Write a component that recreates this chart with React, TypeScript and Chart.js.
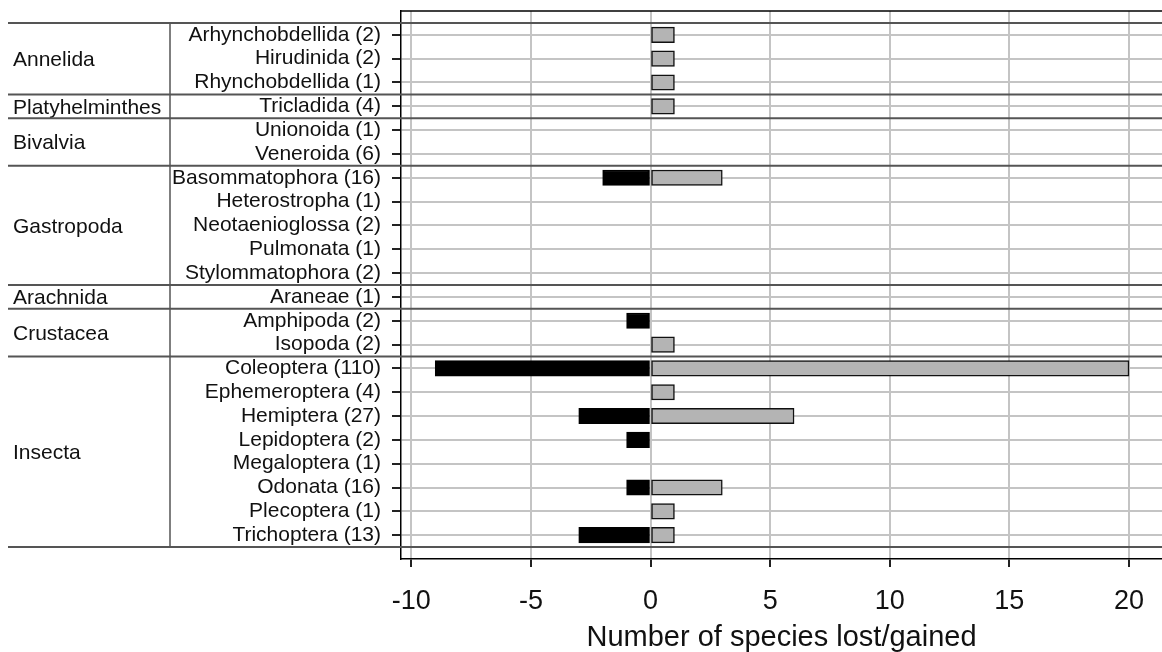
import React, { useEffect, useRef } from 'react';
import { Chart, registerables } from 'chart.js';

Chart.register(...registerables);

const phyla = ['Annelida', 'Platyhelminthes', 'Bivalvia', 'Gastropoda', 'Arachnida', 'Crustacea', 'Insecta'];
const phylumSizes = [3, 1, 2, 5, 1, 2, 8];
const orders = [
  'Arhynchobdellida (2)', 'Hirudinida (2)', 'Rhynchobdellida (1)',
  'Tricladida (4)',
  'Unionoida (1)', 'Veneroida (6)',
  'Basommatophora (16)', 'Heterostropha (1)', 'Neotaenioglossa (2)', 'Pulmonata (1)', 'Stylommatophora (2)',
  'Araneae (1)',
  'Amphipoda (2)', 'Isopoda (2)',
  'Coleoptera (110)', 'Ephemeroptera (4)', 'Hemiptera (27)', 'Lepidoptera (2)', 'Megaloptera (1)', 'Odonata (16)', 'Plecoptera (1)', 'Trichoptera (13)',
];
const lost = [0, 0, 0, 0, 0, 0, -2, 0, 0, 0, 0, 0, -1, 0, -9, 0, -3, -1, 0, -1, 0, -3];
const gained = [1, 1, 1, 1, 0, 0, 3, 0, 0, 0, 0, 0, 0, 1, 20, 1, 6, 0, 0, 3, 1, 1];
const xTicks = [-10, -5, 0, 5, 10, 15, 20];
const xMin = -10.43;
const xMax = 21.38;
const xTitle = 'Number of species lost/gained';

const FONT = '"Liberation Sans", Arial, sans-serif';

const groupPlugin = {
  id: 'groups',
  afterDraw(chart: any) {
    const { ctx, chartArea, scales } = chart;
    const y = scales.y;
    const step = y.getPixelForValue(2) - y.getPixelForValue(1);
    ctx.save();
    ctx.strokeStyle = '#000';
    ctx.lineWidth = 1.5;
    ctx.beginPath();
    ctx.moveTo(chartArea.left, chartArea.top);
    ctx.lineTo(chartArea.right, chartArea.top);
    ctx.stroke();

    const bounds: number[] = [y.getPixelForValue(1) - step / 2];
    let idx = 1;
    ctx.fillStyle = '#111';
    ctx.font = `21px ${FONT}`;
    ctx.textAlign = 'left';
    ctx.textBaseline = 'middle';
    phylumSizes.forEach((n, i) => {
      const topPx = y.getPixelForValue(idx) - step / 2;
      const botPx = y.getPixelForValue(idx + n - 1) + step / 2;
      ctx.fillText(phyla[i], 13, (topPx + botPx) / 2 + 1.5);
      bounds.push(botPx);
      idx += n;
    });
    ctx.strokeStyle = '#555';
    ctx.lineWidth = 2;
    bounds.forEach((b) => {
      ctx.beginPath();
      ctx.moveTo(8, b);
      ctx.lineTo(chart.width, b);
      ctx.stroke();
    });
    ctx.lineWidth = 1.5;
    ctx.beginPath();
    ctx.moveTo(170, bounds[0]);
    ctx.lineTo(170, bounds[bounds.length - 1]);
    ctx.stroke();
    ctx.restore();
  },
};

export default function App() {
  const ref = useRef<HTMLCanvasElement>(null);
  useEffect(() => {
    if (!ref.current) return;
    const labels = ['', ...orders, ''];
    const lostData = [null, ...lost.map((v) => (v === 0 ? null : v)), null];
    const gainedData = [null, ...gained.map((v) => (v === 0 ? null : v)), null];
    const last = labels.length - 1;
    const chart = new Chart(ref.current, {
      type: 'bar',
      data: {
        labels,
        datasets: [
          {
            label: 'lost',
            data: lostData as any,
            backgroundColor: '#000',
            borderColor: '#000',
            borderWidth: 1.5,
            borderSkipped: false,
            barThickness: 15.5,
          },
          {
            label: 'gained',
            data: gainedData as any,
            backgroundColor: '#b4b4b4',
            borderColor: '#111',
            borderWidth: 1.5,
            borderSkipped: false,
            barThickness: 15.5,
          },
        ],
      },
      options: {
        indexAxis: 'y',
        responsive: false,
        animation: false,
        layout: { padding: { top: 11, left: 0, right: 0, bottom: 0 } },
        plugins: { legend: { display: false }, tooltip: { enabled: false } },
        scales: {
          x: {
            type: 'linear',
            stacked: true,
            min: xMin,
            max: xMax,
            afterBuildTicks: (scale: any) => {
              scale.ticks = xTicks.map((v) => ({ value: v }));
            },
            afterFit: (scale: any) => {
              scale.height = 93;
              scale.paddingLeft = 0;
              scale.paddingRight = 0;
            },
            ticks: {
              font: { family: FONT, size: 27 },
              color: '#111',
              padding: 18,
              maxRotation: 0,
              autoSkip: false,
            },
            grid: {
              color: '#c4c4c4',
              lineWidth: 2,
              tickColor: '#222',
              tickLength: 8,
            },
            border: { color: '#000', width: 1.5 },
            title: {
              display: true,
              text: xTitle,
              font: { family: FONT, size: 29 },
              color: '#111',
              padding: { top: 0, bottom: -3 },
            },
          },
          y: {
            type: 'category',
            stacked: true,
            offset: false,
            afterFit: (scale: any) => {
              scale.width = 401;
              scale.paddingTop = 0;
              scale.paddingBottom = 0;
            },
            ticks: {
              font: { family: FONT, size: 21 },
              color: '#111',
              padding: 11,
              autoSkip: false,
            },
            grid: {
              offset: false,
              color: (c: any) => (c.index === 0 || c.index === last ? 'rgba(0,0,0,0)' : '#c4c4c4'),
              tickColor: (c: any) => (c.index === 0 || c.index === last ? 'rgba(0,0,0,0)' : '#222'),
              lineWidth: 2,
              tickLength: 9,
            },
            border: { color: '#000', width: 1.5 },
          },
        },
      },
      plugins: [groupPlugin],
    } as any);
    return () => chart.destroy();
  }, []);
  return (
    <div style={{ position: 'absolute', left: 0, top: 0, width: 1162, height: 652, background: '#fff' }}>
      <canvas ref={ref} width={1162} height={652} />
    </div>
  );
}
